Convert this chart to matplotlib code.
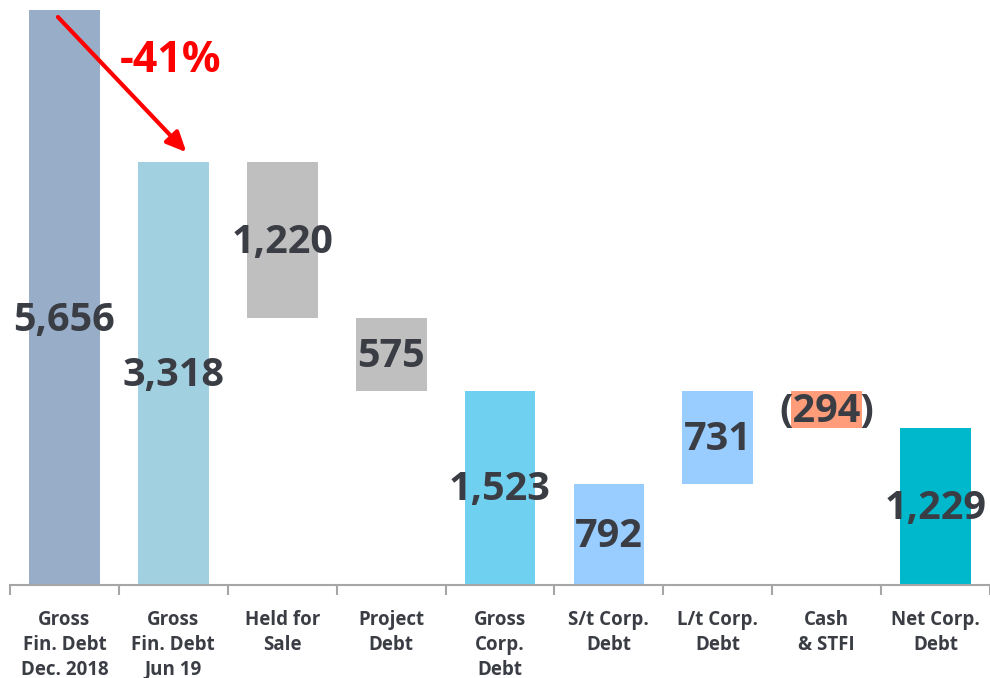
import matplotlib
matplotlib.use("Agg")
from matplotlib import pyplot as plt

plt.rcParams['font.family'] = ['Open Sans', 'DejaVu Sans']

categories = ['Gross\nFin. Debt\nDec. 2018', 'Gross\nFin. Debt\nJun 19', 'Held for\nSale',
              'Project\nDebt', 'Gross\nCorp.\nDebt', 'S/t Corp.\nDebt', 'L/t Corp.\nDebt',
              'Cash\n& STFI', 'Net Corp.\nDebt']
values = [5656, 3318, 1220, 575, 1523, 792, 731, 294, 1229]
bottoms = [0, 0, 2098, 1523, 0, 0, 792, 1229, 0]
labels = ['5,656', '3,318', '1,220', '575', '1,523', '792', '731', '(294)', '1,229']
colors = ['#98AEC8', '#A1D1E1', '#BFBFBF', '#BFBFBF', '#70D0F0',
          '#99CCFF', '#99CCFF', '#FF9C7A', '#00B8CC']
change_label = '-41%'

ytop = 4515
txt = '#3B3D45'

fig = plt.figure(figsize=(9.9, 6.78), dpi=100)
ax = fig.add_axes([10/990, 93/678, 980/990, 575/678])

x = list(range(len(categories)))
ax.bar(x, values, bottom=bottoms, width=0.65, color=colors, zorder=2)

for i, (v, b, lab) in enumerate(zip(values, bottoms, labels)):
    top = min(b + v, ytop)
    yc = (b + top) / 2 - 15
    if b + v > ytop:
        yc = top * 0.46
    ax.text(i, yc, lab, ha='center', va='center', fontsize=28.5,
            fontweight='bold', color=txt, zorder=3)

# arrow from the first bar down to the second
ax.annotate('', xy=(1.12, values[1] + 80), xytext=(-0.06, 4460),
            arrowprops=dict(arrowstyle='-|>,head_length=1.2,head_width=0.55',
                            color='#FF0000', lw=3, shrinkA=0, shrinkB=0), zorder=4)
ax.text(0.97, 4120, change_label, ha='center', va='center', fontsize=31,
        fontweight='bold', color='#FF0000', zorder=4)

ax.set_xlim(-0.5, len(categories) - 0.5)
ax.set_ylim(0, ytop)
for s in ['top', 'right', 'left']:
    ax.spines[s].set_visible(False)
ax.spines['bottom'].set_color('#A6A6A6')
ax.spines['bottom'].set_linewidth(1.5)
ax.set_yticks([])
ax.set_xticks(x)
ax.set_xticklabels(categories, fontsize=13.5, fontweight='bold', color=txt, linespacing=1.32)
ax.tick_params(axis='x', which='major', length=0, pad=18)
ax.set_xticks([i - 0.5 for i in range(len(categories) + 1)], minor=True)
ax.tick_params(axis='x', which='minor', length=7, width=1.5, color='#A6A6A6', direction='out')

fig.savefig('out.png', dpi=100)
